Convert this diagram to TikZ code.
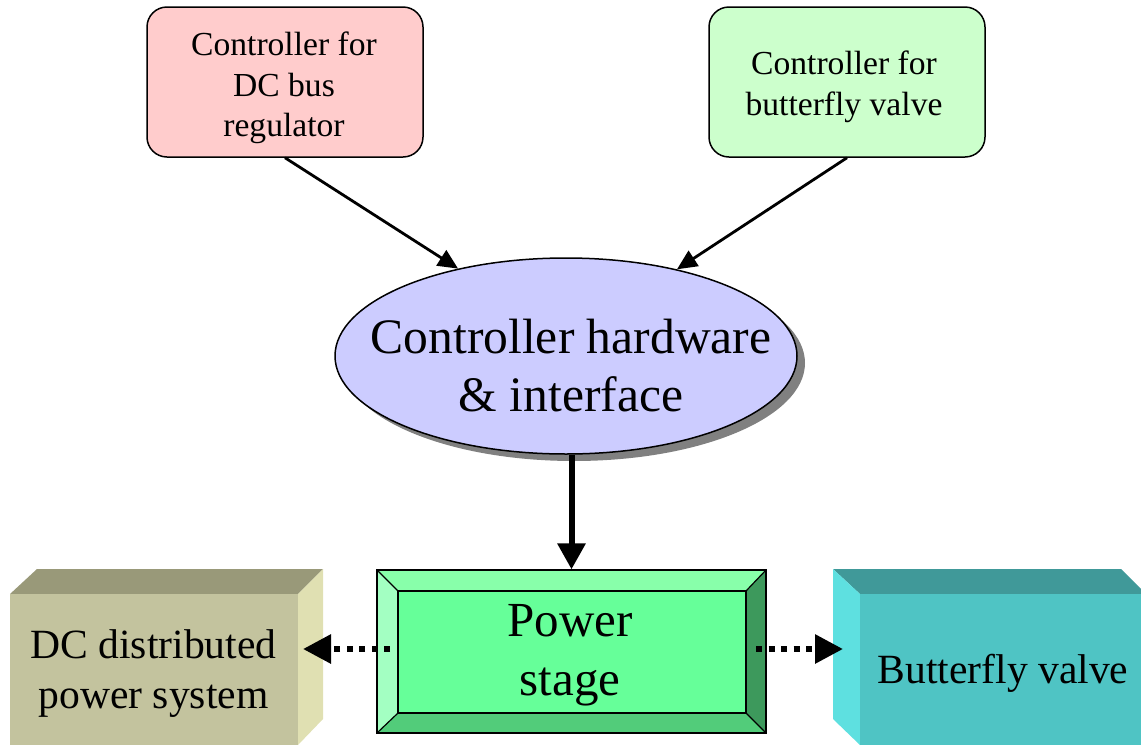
\documentclass[tikz,border=0pt]{standalone}
\usepackage{fontspec}
\setmainfont{Liberation Serif}
\usetikzlibrary{arrows.meta,shapes.geometric,shadows}

\definecolor{pinkfill}{HTML}{FFCCCC}
\definecolor{mintfill}{HTML}{CCFFCC}
\definecolor{lavfill}{HTML}{CCCCFF}
% bevelled power-stage block
\definecolor{pwrface}{HTML}{66FF99}
\definecolor{pwrtop}{HTML}{88FFAA}
\definecolor{pwrleft}{HTML}{A3FFC2}
\definecolor{pwrbottom}{HTML}{52CC7A}
\definecolor{pwrright}{HTML}{3D995C}
% olive block
\definecolor{dcfront}{HTML}{C3C39E}
\definecolor{dctop}{HTML}{999979}
\definecolor{dcside}{HTML}{E0E0B2}
% teal block
\definecolor{bvfront}{HTML}{4FC4C4}
\definecolor{bvtop}{HTML}{409999}
\definecolor{bvside}{HTML}{5EE0E0}

\begin{document}
\begin{tikzpicture}[x=1pt,y=-1pt,
  ctrlbox/.style={draw, line width=1.5pt, rounded corners=20pt,
    minimum width=276pt, minimum height=150pt, inner sep=0pt},
  smalltext/.style={font=\fontsize{33.6}{40.5}\selectfont, align=center, inner sep=0pt},
  midtext/.style={font=\fontsize{41.6}{50}\selectfont, align=center, inner sep=0pt},
  bigtext/.style={font=\fontsize{49.6}{58}\selectfont, align=center, inner sep=0pt},
  thinarrow/.style={line width=2.8pt, -{Triangle[length=20pt,width=18pt]}},
  thickarrow/.style={line width=6pt, -{Triangle[length=26pt,width=27pt]}},
  dotarrow/.style={line width=6pt, dash pattern=on 6pt off 6.5pt,
    -{Triangle[length=28pt,width=28pt]}},
  bevel/.style={draw, line width=1.2pt, line join=miter}
]
\useasboundingbox (0,0) rectangle (1141,745);

% ---- controllers at the top ----
\node[ctrlbox, fill=pinkfill] (busctl) at (285,82) {};
\node[smalltext] (busctltxt) at (284,88) {Controller for\\DC bus\\regulator};
\node[ctrlbox, fill=mintfill] (valvectl) at (847,82) {};
\node[smalltext] (valvectltxt) at (844,87) {Controller for\\butterfly valve};

% ---- controller hardware ----
\node[ellipse, draw, line width=1.5pt, fill=lavfill, minimum width=462pt,
  minimum height=196pt, inner sep=0pt,
  drop shadow={shadow xshift=8pt, shadow yshift=-7pt, fill=black!50, opacity=1}]
  (hw) at (566,356) {};
\node[bigtext] (hwtxt) at (571,366) {Controller hardware\\\& interface};

% ---- olive block (left) ----
\fill[dctop] (10,594) -- (37,569) -- (323,569) -- (298,594) -- cycle;
\fill[dcside] (298,594) -- (323,569) -- (323,719) -- (298,745) -- cycle;
\node[fill=dcfront, minimum width=288pt, minimum height=151pt, inner sep=0pt]
  (dc) at (154,669.5) {};
\node[midtext] (dctxt) at (153.5,674) {DC distributed\\power system};

% ---- teal block (right) ----
\fill[bvtop] (833,569) -- (1121,569) -- (1146,594) -- (860,594) -- cycle;
\fill[bvside] (833,569) -- (860,594) -- (860,745) -- (833,719) -- cycle;
\node[fill=bvfront, minimum width=281pt, minimum height=151pt, inner sep=0pt]
  (bv) at (1000.5,669.5) {};
\node[midtext] (bvtxt) at (1003,673.4) {Butterfly valve};

% ---- bevelled power stage ----
\fill[pwrtop] (377,570) -- (766,570) -- (746,591) -- (398,591) -- cycle;
\fill[pwrleft] (377,570) -- (398,591) -- (398,713) -- (377,733) -- cycle;
\fill[pwrbottom] (377,733) -- (398,713) -- (746,713) -- (766,733) -- cycle;
\fill[pwrright] (766,570) -- (746,591) -- (746,713) -- (766,733) -- cycle;
\fill[pwrface] (398,591) rectangle (746,713);
\draw[bevel] (398,591) rectangle (746,713);
\draw[bevel] (377,570) -- (398,591) (766,570) -- (746,591)
  (377,733) -- (398,713) (766,733) -- (746,713);
\node[draw, line width=1.2pt, minimum width=389pt, minimum height=163pt,
  inner sep=0pt] (pwr) at (571.5,651.5) {};
\node[font=\fontsize{49}{59}\selectfont, align=center, inner sep=0pt]
  (pwrtxt) at (570,655) {Power\\stage};

% ---- connectors ----
\draw[thinarrow] (busctl.south) -- (hw.141);
\draw[thinarrow] (valvectl.south) -- (hw.38.6);
\draw[thickarrow] (pwr.north |- hw.south) -- (pwr.north);

\coordinate (pwrL) at (390,649);
\coordinate (dcR) at (303,649);
\coordinate (pwrR) at (756,649);
\coordinate (bvL) at (843,649);
\draw[dotarrow] (pwrL) -- (dcR);
\draw[dotarrow] (pwrR) -- (bvL);
\end{tikzpicture}
\end{document}
